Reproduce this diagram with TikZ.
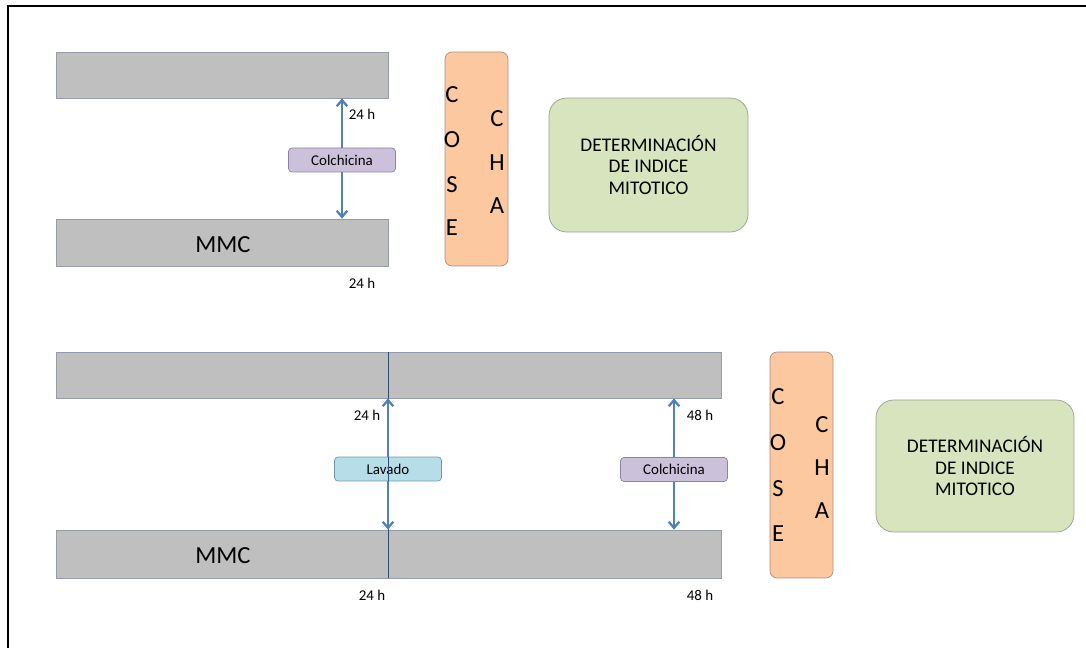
\documentclass[tikz,border=0pt]{standalone}
\usepackage{fontspec}
\setmainfont{Carlito}
\usetikzlibrary{arrows.meta, calc}
\definecolor{barfill}{RGB}{191,191,191}
\definecolor{bardraw}{RGB}{150,156,172}
\definecolor{cosfill}{RGB}{251,200,160}
\definecolor{cosdraw}{RGB}{170,140,130}
\definecolor{indfill}{RGB}{216,228,190}
\definecolor{inddraw}{RGB}{150,160,140}
\definecolor{lavfill}{RGB}{183,222,232}
\definecolor{lavdraw}{RGB}{110,150,170}
\definecolor{colfill}{RGB}{204,193,218}
\definecolor{coldraw}{RGB}{140,130,165}
\definecolor{arrblue}{RGB}{79,129,189}
\tikzset{
  bar/.style={draw=bardraw, fill=barfill, inner sep=0pt},
  cosecha/.style={draw=cosdraw, fill=cosfill, rounded corners=4pt, inner sep=0pt, minimum width=1.26cm},
  indice/.style={draw=inddraw, fill=indfill, rounded corners=10pt, inner sep=0pt, align=center,
    font=\fontsize{11}{12.5}\selectfont},
  tag/.style={draw=#1draw, fill=#1fill, rounded corners=2pt, inner sep=0pt, minimum width=2.14cm,
    minimum height=0.48cm, font=\fontsize{8.5}{10}\selectfont},
  letra/.style={inner sep=0pt, font=\fontsize{14}{14}\selectfont},
  hora/.style={inner sep=0pt, font=\fontsize{8.5}{10}\selectfont},
  arr/.style={draw=arrblue, line width=1.3pt, -{Straight Barb[length=3.5pt, width=6pt]}}
}
\begin{document}
\begin{tikzpicture}[x=0.02cm, y=-0.02cm]
  \useasboundingbox (0,0) rectangle (1086,648);
  \draw[line width=1.2pt] (8,648) -- (8,6) -- (1086,6);

  \node[bar, minimum width=6.64cm, minimum height=0.92cm] (bar1) at (222,75) {};
  \node[bar, minimum width=6.64cm, minimum height=0.94cm] (mmc1) at (222,242.5) {};
  \node[letra] (mmct1) at (223,245) {MMC};
  \node[tag=col] (colch1) at (342,160) {Colchicina};
  \draw[arr] (colch1.north) -- (colch1.north |- bar1.south);
  \draw[arr] (colch1.south) -- (colch1.south |- mmc1.north);
  \node[hora] (h1) at (362,114) {24 h};
  \node[hora] (h2) at (362,283) {24 h};
  \node[cosecha, minimum height=4.28cm] (cos1) at (476.5,159) {};
  \foreach \l/\y [count=\i] in {C/95, O/140, S/185, E/228}
    \node[letra] (ca\i) at (452,\y) {\l};
  \foreach \l/\y [count=\i] in {C/119, H/163, A/206}
    \node[letra] (cb\i) at (497,\y) {\l};
  \node[indice, minimum width=3.98cm, minimum height=2.68cm] (ind1) at (648.5,165)
    {DETERMINACIÓN\\DE INDICE\\MITOTICO};

  \node[bar, minimum width=13.3cm, minimum height=0.92cm] (bar2) at (388.5,375) {};
  \node[bar, minimum width=13.3cm, minimum height=0.96cm] (mmc2) at (388.5,554) {};
  \node[letra] (mmct2) at (223,556) {MMC};
  \node[tag=lav] (lavado) at (388,469) {Lavado};
  \node[tag=col] (colch2) at (674,469.5) {Colchicina};
  \draw[draw=arrblue!60!black, line width=0.5pt] (lavado.north |- bar2.north) -- (lavado.south |- mmc2.south);
  \foreach \t in {lavado, colch2} {
    \draw[arr] (\t.north) -- (\t.north |- bar2.south);
    \draw[arr] (\t.south) -- (\t.south |- mmc2.north);
  }
  \node[hora] (h3) at (367,415) {24 h};
  \node[hora] (h4) at (700,415) {48 h};
  \node[hora] (h5) at (372,595) {24 h};
  \node[hora] (h6) at (700,595) {48 h};
  \node[cosecha, minimum height=4.52cm] (cos2) at (801.5,465) {};
  \foreach \l/\y [count=\i] in {C/397, O/443, S/489, E/534}
    \node[letra] (cc\i) at (778,\y) {\l};
  \foreach \l/\y [count=\i] in {C/425, H/468, A/511}
    \node[letra] (cd\i) at (822,\y) {\l};
  \node[indice, minimum width=3.96cm, minimum height=2.64cm] (ind2) at (975,466)
    {DETERMINACIÓN\\DE INDICE\\MITOTICO};
\end{tikzpicture}
\end{document}
